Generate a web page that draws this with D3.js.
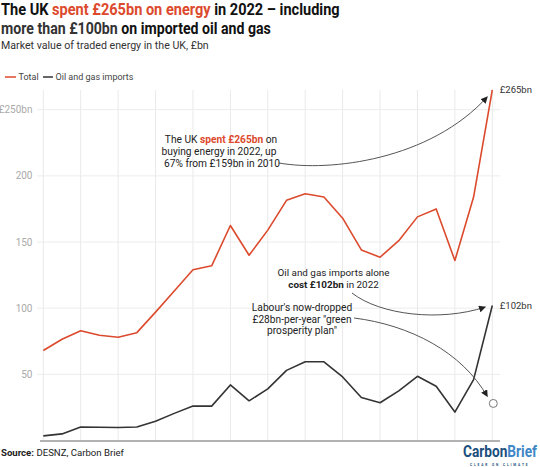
<!DOCTYPE html>
<html><head><meta charset="utf-8">
<script src="https://cdn.jsdelivr.net/npm/d3@7"></script>
<style>
html,body{margin:0;padding:0;background:#fff;}
svg{display:block;font-family:Roboto,"Noto Sans",sans-serif;}
</style></head>
<body>
<svg id="c" width="540" height="467"></svg>
<script>
const years = [1998,1999,2000,2001,2002,2003,2004,2005,2006,2007,2008,2009,2010,2011,2012,2013,2014,2015,2016,2017,2018,2019,2020,2021,2022];
const totalValues = [68,76.5,83,79.5,78,81.5,97,113,129,132,162.5,140,159,181.5,186.5,184,168,144,138.5,151,169,175,136,184,265];
const importValues = [3.5,5,10.2,10,9.8,10.2,14.5,20.5,26,26,42,30,39,53,59.5,59.5,48,32.5,28.5,37.5,48.5,41,21.5,46,102];
const yTicks = [50,100,150,200,250];
const yTickLabels = ["50","100","150","200","£250bn"];
const gridYears = [1998,2000,2002,2004,2006,2008,2010,2012,2014,2016,2018,2020,2022];
const seriesNames = ["Total","Oil and gas imports"];
const greenPlanValue = 28;

const RED = "#dc4a2d", DARK = "#333333";
const svg = d3.select("#c");
const x = d3.scaleLinear().domain([1998,2022]).range([43.3,492.3]);
const y = d3.scaleLinear().domain([0,250]).range([440.5,109.7]);

// text squeezed horizontally to a target width
function scaledText(px, py, fs, weight, segs, target){
  const g = svg.append("g").attr("transform",`translate(${px},${py})`);
  const t = g.append("text").attr("font-size",fs).attr("font-weight",weight);
  segs.forEach(s => t.append("tspan").attr("fill",s[1]).attr("font-weight",s[2]||weight).text(s[0]));
  const w = t.node().getComputedTextLength();
  g.attr("transform",`translate(${px},${py}) scale(${(target/w).toFixed(4)},1)`);
  return g;
}
// Title
scaledText(1,14.5,16,"bold",[["The UK ","#111"],["spent £265bn on energy",RED],[" in 2022 – including","#111"]],339);
scaledText(1,34,16,"bold",[["more than £100bn",DARK],[" on imported oil and gas","#111"]],270);
scaledText(1,48.5,11.5,"normal",[["Market value of traded energy in the UK, £bn","#333"]],208);

// Legend
const lg = svg.append("g").attr("font-size",9).attr("fill","#444");
lg.append("line").attr("x1",5).attr("x2",16).attr("y1",77).attr("y2",77).attr("stroke",RED).attr("stroke-width",1.5);
lg.append("text").attr("x",18.5).attr("y",80).text(seriesNames[0]);
lg.append("line").attr("x1",43).attr("x2",53).attr("y1",77).attr("y2",77).attr("stroke",DARK).attr("stroke-width",1.5);
lg.append("text").attr("x",55.5).attr("y",80).text(seriesNames[1]);

// Grid
const g = svg.append("g");
g.selectAll(".vg").data(gridYears).join("line")
  .attr("x1",d=>x(d)).attr("x2",d=>x(d)).attr("y1",90).attr("y2",y(0))
  .attr("stroke","#e9e9e9").attr("stroke-width",1);
g.selectAll(".hg").data(yTicks).join("line")
  .attr("x1",37).attr("x2",500).attr("y1",d=>y(d)).attr("y2",d=>y(d))
  .attr("stroke","#ececec").attr("stroke-width",1);
g.selectAll(".yl").data(yTicks).join("text")
  .attr("x",32.5).attr("y",d=>y(d)+3.5).attr("text-anchor","end")
  .attr("font-size",10).attr("fill","#aaa").text((d,i)=>yTickLabels[i]);
g.append("line").attr("x1",40).attr("x2",500).attr("y1",y(0)+0.5).attr("y2",y(0)+0.5).attr("stroke","#999").attr("stroke-width",1.5);

// Lines
const line = d3.line().x((d,i)=>x(years[i])).y(d=>y(d));
svg.append("path").datum(importValues).attr("d",line).attr("fill","none").attr("stroke",DARK).attr("stroke-width",1.6).attr("stroke-linejoin","round");
svg.append("path").datum(totalValues).attr("d",line).attr("fill","none").attr("stroke",RED).attr("stroke-width",1.6).attr("stroke-linejoin","round");

// End labels
const last = years.length-1;
svg.append("text").attr("x",x(years[last])+7.5).attr("y",y(totalValues[last])+3.5).attr("font-size",9.5).attr("fill","#333").text("£"+totalValues[last]+"bn");
svg.append("text").attr("x",x(years[last])+7.5).attr("y",y(importValues[last])+3.5).attr("font-size",9.5).attr("fill","#333").text("£"+importValues[last]+"bn");

// Green plan circle
svg.append("circle").attr("cx",x(2022)+1).attr("cy",y(greenPlanValue)).attr("r",4).attr("fill","#fff").attr("stroke","#777").attr("stroke-width",1);

// Arrows
svg.append("defs").append("marker").attr("id","ah").attr("viewBox","0 0 10 10").attr("refX",9).attr("refY",5)
  .attr("markerWidth",7).attr("markerHeight",7).attr("markerUnits","userSpaceOnUse").attr("orient","auto")
  .append("path").attr("d","M0,0 L10,5 L0,10 z").attr("fill","#222");
function arrow(d){
  svg.append("path").attr("d",d).attr("fill","none").attr("stroke","#555").attr("stroke-width",1).attr("marker-end","url(#ah)");
}
arrow(`M279,163 C330,172 430,160 ${x(2022)-5},${y(265)+7}`);
arrow(`M352,293 C380,315 440,322 ${x(2022)-7},${y(102)+1.5}`);
arrow(`M354,318 C410,325 462,352 ${x(2022)-5},${y(greenPlanValue)-7}`);

// Annotations
const a = svg.append("g").attr("font-size",10.2).attr("fill","#222").attr("text-anchor","middle");
const a1 = a.append("text").attr("x",221).attr("y",142.5);
a1.append("tspan").text("The UK ");
a1.append("tspan").attr("fill",RED).attr("font-weight","bold").text("spent £265bn");
a1.append("tspan").text(" on");
a.append("text").attr("x",219).attr("y",154.5).text("buying energy in 2022, up");
a.append("text").attr("x",222).attr("y",166.5).text("67% from £159bn in 2010");

const a2g = svg.append("g").attr("font-size",9.9).attr("fill","#222").attr("text-anchor","middle");
a2g.append("text").attr("x",333.5).attr("y",276).text("Oil and gas imports alone");
const a2 = a2g.append("text").attr("x",333.5).attr("y",287.7);
a2.append("tspan").attr("font-weight","bold").text("cost £102bn");
a2.append("tspan").text(" in 2022");

a.append("text").attr("x",302).attr("y",311).text("Labour's now-dropped");
a.append("text").attr("x",302).attr("y",322.7).text("£28bn-per-year \"green");
a.append("text").attr("x",302).attr("y",334.4).text("prosperity plan\"");

// Source
const src = svg.append("text").attr("x",1).attr("y",456).attr("font-size",9.6).attr("fill","#222");
src.append("tspan").attr("font-weight","bold").text("Source:");
src.append("tspan").text(" DESNZ, Carbon Brief");

// Logo
scaledText(463,457,17,"bold",[["Carbon","#1b4f7c"],["Brief","#3f87c7"]],74);
const tag = svg.append("text").attr("x",470).attr("y",465.5).attr("font-size",3.2).attr("font-weight","bold")
  .attr("fill","#1b4f7c").attr("letter-spacing",1.9).text("CLEAR\u00a0ON\u00a0CLIMATE");
</script>
</body></html>
